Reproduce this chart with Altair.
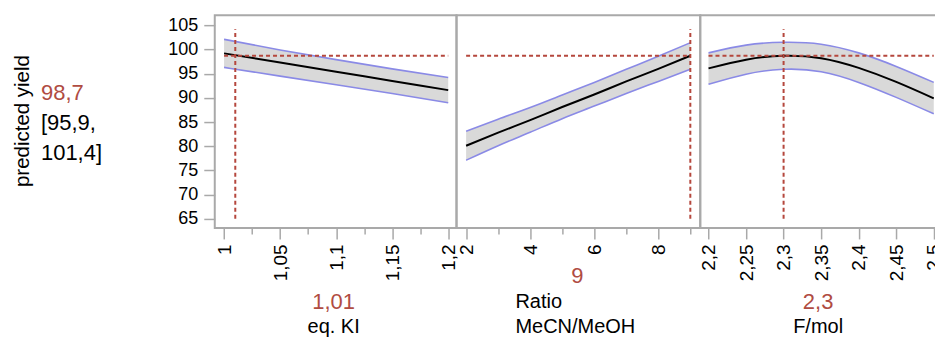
import altair as alt
import pandas as pd

FONT = "Liberation Sans"
GRAY = "#a9a9a9"
RED_TXT = "#b04c42"
RED_LINE = "#b5473d"
BAND_FILL = "#d9d9d9"
BAND_EDGE = "#8a8ae6"

# ---- data ----
# Panel 1: eq. KI
ki_x = [1.00, 1.05, 1.10, 1.15, 1.20]
ki_pred = [99.2, 97.3, 95.4, 93.5, 91.6]
ki_hi = [102.1, 99.9, 97.9, 96.0, 94.2]
ki_lo = [96.3, 94.5, 92.7, 90.9, 89.0]
ki_major = [1.0, 1.05, 1.1, 1.15, 1.2]
ki_minor = [1.025, 1.075, 1.125, 1.175]
ki_current = 1.01
ki_value_label = "1,01"
ki_title = ["eq. KI"]

# Panel 2: Ratio MeCN/MeOH
ratio_x = [2, 3, 4, 5, 6, 7, 8, 9]
ratio_pred = [80.1, 82.8, 85.4, 88.1, 90.7, 93.4, 96.0, 98.7]
ratio_hi = [83.1, 85.6, 88.0, 90.6, 93.2, 95.9, 98.6, 101.4]
ratio_lo = [77.1, 80.1, 82.9, 85.7, 88.3, 90.9, 93.4, 95.9]
ratio_major = [2, 4, 6, 8]
ratio_minor = [3, 5, 7, 9]
ratio_current = 9
ratio_value_label = "9"
ratio_title = ["Ratio", "MeCN/MeOH"]

# Panel 3: F/mol
f_x = [2.20, 2.25, 2.30, 2.35, 2.40, 2.45, 2.50]
f_pred = [96.1, 97.9, 98.7, 98.2, 96.2, 93.3, 89.9]
f_hi = [99.3, 100.9, 101.5, 101.1, 99.3, 96.5, 93.2]
f_lo = [92.8, 94.9, 95.9, 95.4, 93.2, 90.1, 86.7]
f_major = [2.2, 2.25, 2.3, 2.35, 2.4, 2.45, 2.5]
f_minor = []
f_current = 2.3
f_value_label = "2,3"
f_title = ["F/mol"]

# Response
y_ticks = [65, 70, 75, 80, 85, 90, 95, 100, 105]
y_domain = [63.1, 107.1]
pred_value = 98.7
pred_value_label = ["98,7"]
pred_ci_label = ["[95,9,", "101,4]"]
response_title = ["predicted yield"]
vline_span = [65, 104.2]

H = 213


def lines_layer(lines, x, y0, step, color, size, align="center"):
    layers = []
    for i, t in enumerate(lines):
        df = pd.DataFrame({"t": [t]})
        layers.append(
            alt.Chart(df).mark_text(
                align=align, baseline="alphabetic", color=color,
                fontSize=size, font=FONT
            ).encode(text="t:N", x=alt.value(x), y=alt.value(y0 + i * step))
        )
    return layers


def panel(xs, pred, lo, hi, cur, domain, majors, minors, width, show_y,
          value_label, value_pos, title_lines, title_pos, title_align,
          interp="monotone", extra=None):
    df = pd.DataFrame({"x": xs, "pred": pred, "lo": lo, "hi": hi})
    if minors:
        minor_test = "indexof([%s], datum.value) >= 0" % ",".join(str(m) for m in minors)
    else:
        minor_test = "false"
    xaxis = alt.Axis(
        values=majors + minors,
        labelExpr=f"({minor_test}) ? '' : replace(format(datum.value, '.3~g'), '.', ',')",
        tickSize={"condition": {"test": minor_test, "value": 6}, "value": 11},
        labelAngle=-90, labelFontSize=19, labelPadding=5, labelColor="black",
        domain=False, grid=False, title=None, tickColor=GRAY, tickWidth=1.5,
        labelFont=FONT, labelOverlap=False,
    )
    xs_scale = alt.Scale(domain=domain, nice=False, zero=False)
    if show_y:
        yaxis = alt.Axis(values=y_ticks, labelFontSize=18, tickSize=11, labelPadding=6,
                         domain=False, grid=False, title=None, tickColor=GRAY,
                         tickWidth=1.5, labelColor="black", labelFont=FONT,
                         labelOverlap=False, labelSeparation=0)
    else:
        yaxis = None
    ys = alt.Scale(domain=y_domain, nice=False, zero=False)

    def X(field):
        return alt.X(field, scale=xs_scale, axis=xaxis)

    def Y(field):
        return alt.Y(field, scale=ys, axis=yaxis)

    base = alt.Chart(df)
    band = base.mark_area(color=BAND_FILL, opacity=1, interpolate=interp).encode(
        x=X("x:Q"), y=Y("lo:Q"), y2="hi:Q")
    hi_line = base.mark_line(color=BAND_EDGE, strokeWidth=1.6, interpolate=interp).encode(
        x=X("x:Q"), y=Y("hi:Q"))
    lo_line = base.mark_line(color=BAND_EDGE, strokeWidth=1.6, interpolate=interp).encode(
        x=X("x:Q"), y=Y("lo:Q"))
    pred_line = base.mark_line(color="black", strokeWidth=2, interpolate=interp).encode(
        x=X("x:Q"), y=Y("pred:Q"))

    vdf = pd.DataFrame({"x": [cur], "y": [vline_span[0]], "y2": [vline_span[1]]})
    vrule = alt.Chart(vdf).mark_rule(color=RED_LINE, strokeWidth=2, strokeDash=[4, 3]).encode(
        x=X("x:Q"), y=Y("y:Q"), y2="y2:Q")
    hdf = pd.DataFrame({"x": [min(xs)], "x2": [max(xs)], "y": [pred_value]})
    hrule = alt.Chart(hdf).mark_rule(color=RED_LINE, strokeWidth=2, strokeDash=[4, 3]).encode(
        x=X("x:Q"), x2="x2:Q", y=Y("y:Q"))

    layers = [band, hi_line, lo_line, pred_line, hrule, vrule]
    layers += lines_layer([value_label], value_pos[0], value_pos[1], 0, RED_TXT, 22)
    layers += lines_layer(title_lines, title_pos[0], title_pos[1], 25, "black", 20, title_align)
    if extra:
        layers += extra
    return alt.layer(*layers).properties(width=width, height=H)


left_extra = []
left_extra += lines_layer(pred_value_label, -174, 85, 0, RED_TXT, 22, "left")
left_extra += lines_layer(pred_ci_label, -174, 115, 30, "black", 22, "left")
left_extra.append(
    alt.Chart(pd.DataFrame({"t": response_title})).mark_text(
        align="center", baseline="middle", angle=270, fontSize=20.5, font=FONT, color="black"
    ).encode(text="t:N", x=alt.value(-192), y=alt.value(106))
)

p1 = panel(ki_x, ki_pred, ki_lo, ki_hi, ki_current, [0.9917, 1.2074], ki_major, ki_minor,
           242, True, ki_value_label, (119, 294), ki_title, (119, 318), "center",
           extra=left_extra)
p2 = panel(ratio_x, ratio_pred, ratio_lo, ratio_hi, ratio_current, [1.70, 9.31],
           ratio_major, ratio_minor, 244, False, ratio_value_label, (121, 268),
           ratio_title, (59, 293), "left")
p3 = panel(f_x, f_pred, f_lo, f_hi, f_current, [2.189, 2.5123], f_major, f_minor,
           243, False, f_value_label, (118, 294), f_title, (118, 318), "center",
           interp="natural")

chart = alt.hconcat(p1, p2, p3, spacing=0, bounds="flush").resolve_scale(
    x="independent"
).configure_view(
    stroke=GRAY, strokeWidth=2
).configure_axis(
    labelOverlap=False
).properties(
    padding={"left": 12, "top": 14, "right": -10, "bottom": 0},
    background="white",
)

chart.save("out.html", embed_options={"renderer": "svg", "actions": False})
